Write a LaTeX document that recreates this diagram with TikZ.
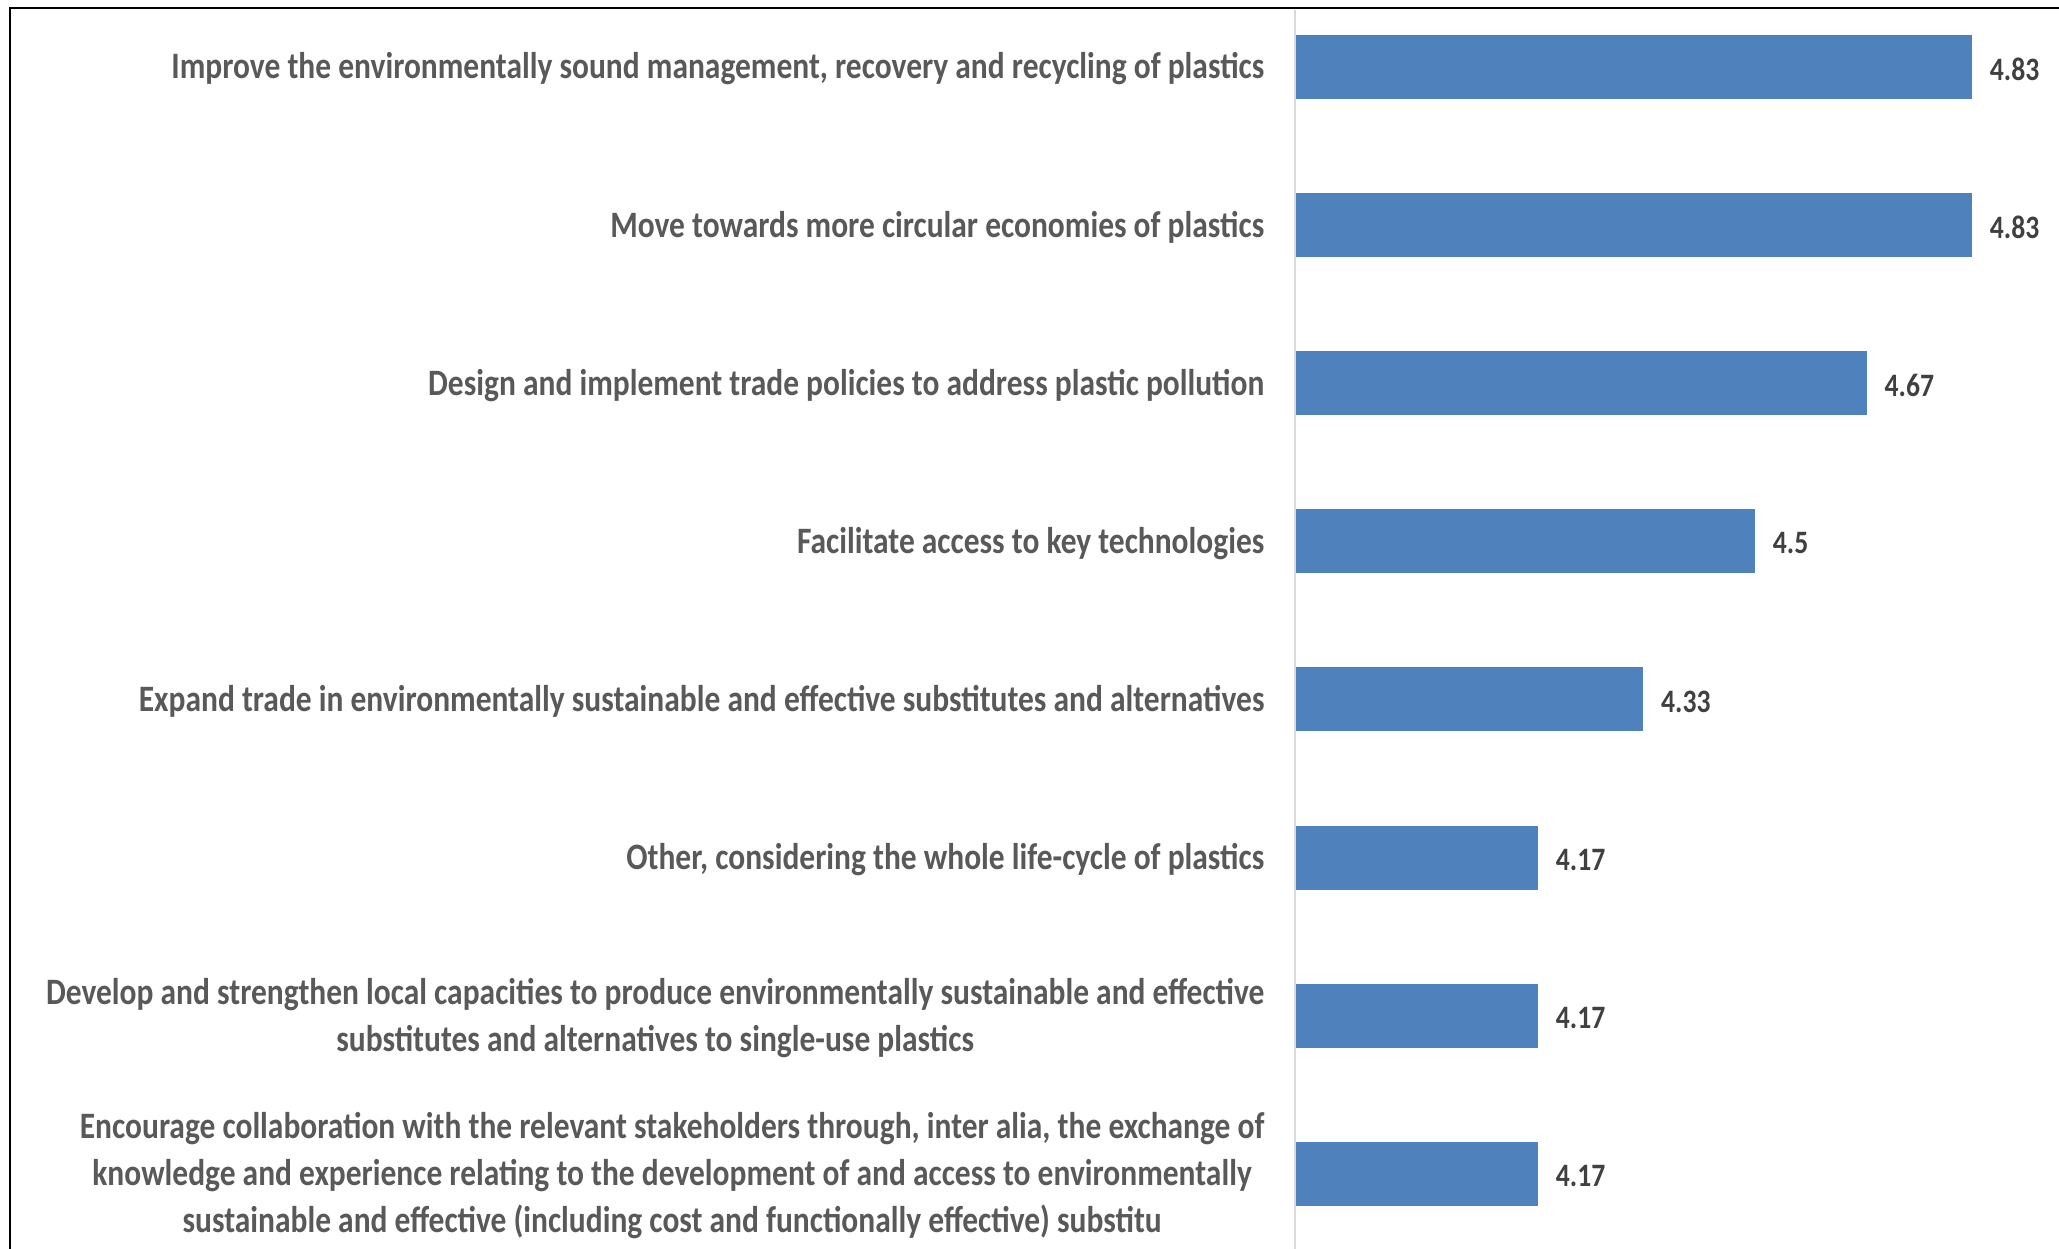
\documentclass[tikz,border=0pt]{standalone}
\usepackage{fontspec}
\newfontfamily\chartfont{Carlito}[FakeStretch=0.845]
\usetikzlibrary{positioning}
\definecolor{barblue}{HTML}{4F81BD}
\definecolor{labgray}{HTML}{595959}
\definecolor{valgray}{HTML}{404040}
\definecolor{axisgray}{HTML}{D9D9D9}

\begin{document}
\begin{tikzpicture}[x=0.1mm,y=-0.1mm,
  hbar/.style = {fill=barblue},
  cat/.style = {anchor=east,inner sep=0pt,align=center,text=labgray,
                font=\chartfont\bfseries\fontsize{10.6pt}{13.4pt}\selectfont},
  val/.style = {anchor=west,inner sep=0pt,text=valgray,
                font=\chartfont\bfseries\fontsize{9.3pt}{11pt}\selectfont}]
\useasboundingbox (0,0) rectangle (2059,1249);
\fill[white] (0,0) rectangle (2059,1249);
% frame and axis
\draw[line width=0.8pt] (2059,8) -- (10,8) -- (10,1249);
\draw[axisgray,line width=0.6pt] (1295,10) -- (1295,1249);
\foreach \v/\t [count=\i from 0] in {
    4.83/{Improve the environmentally sound management, recovery and recycling of plastics},
    4.83/{Move towards more circular economies of plastics},
    4.67/{Design and implement trade policies to address plastic pollution},
    4.5/{Facilitate access to key technologies},
    4.33/{Expand trade in environmentally sustainable and effective substitutes and alternatives},
    4.17/{Other, considering the whole life-cycle of plastics},
    4.17/{Develop and strengthen local capacities to produce environmentally sustainable and effective\\substitutes and alternatives to single-use plastics},
    4.17/{Encourage collaboration with the relevant stakeholders through, inter alia, the exchange of\\knowledge and experience relating to the development of and access to environmentally\\sustainable and effective (including cost and functionally effective) substitu}}
{
    \pgfmathsetmacro\yc{67+158.1*\i}
    \pgfmathsetmacro\xe{\v*657.6-1204}
    \fill[hbar] (1296,\yc-32) rectangle (\xe,\yc+32);
    \coordinate (end\i) at (\xe,\yc+2);
    \node[val, right=1.7mm of end\i] (val\i) {\v};
    \node[cat] (cat\i) at (1265,\yc+2) {\t};
}
\end{tikzpicture}
\end{document}
